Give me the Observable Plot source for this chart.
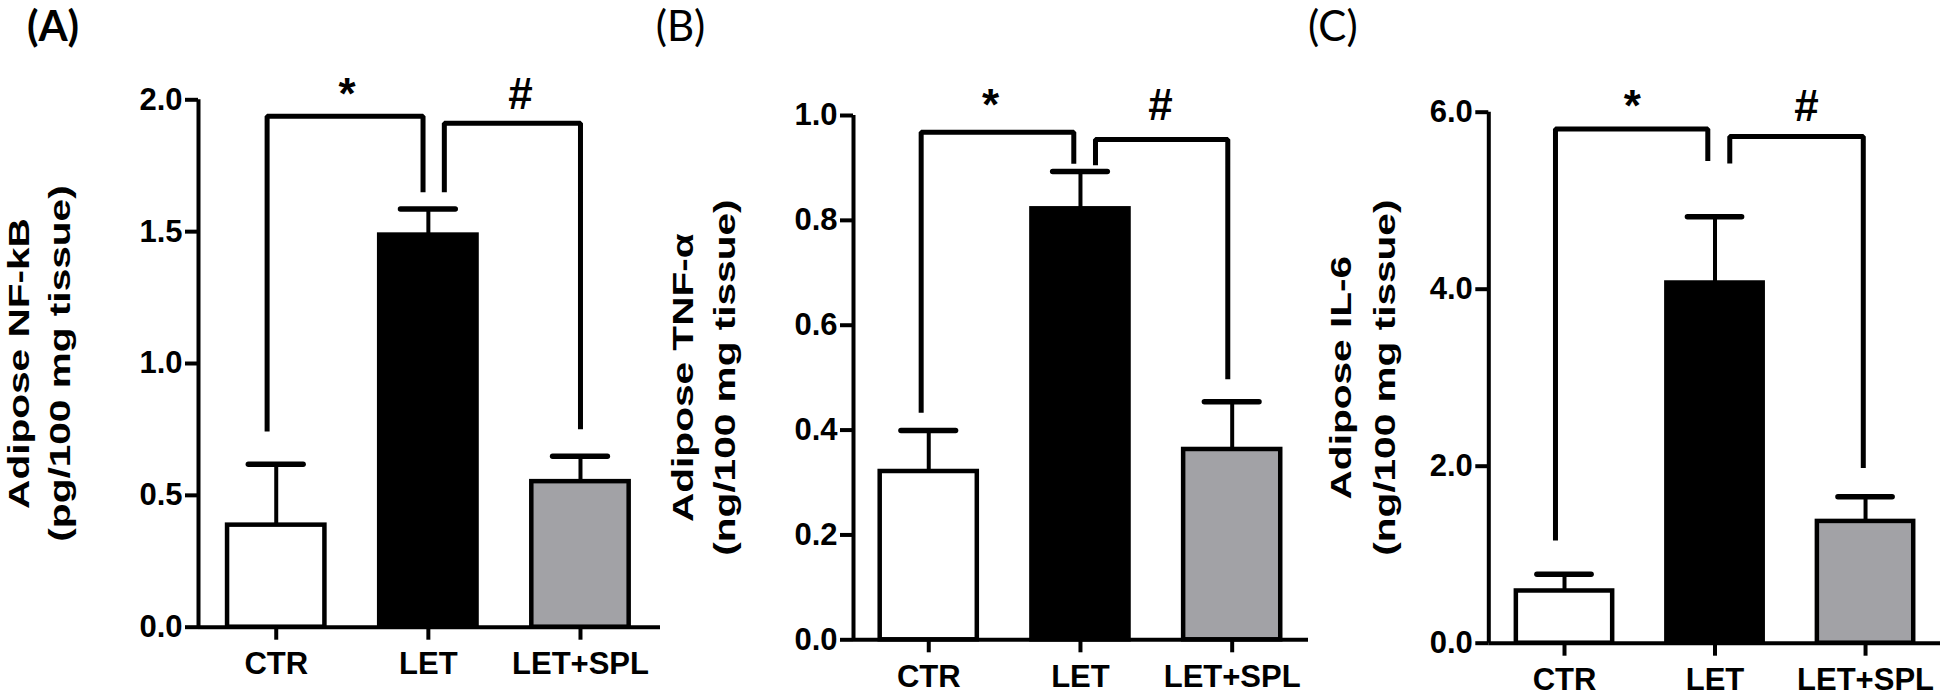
<!DOCTYPE html>
<html><head><meta charset="utf-8">
<script src="https://cdn.jsdelivr.net/npm/d3@7"></script>
<script src="https://cdn.jsdelivr.net/npm/@observablehq/plot@0.6"></script>
<style>
body{margin:0;background:#fff;}
#wrap{position:relative;width:1943px;height:696px;overflow:hidden;background:#fff;}
#wrap svg{position:absolute;top:0;}
</style></head><body><div id="wrap"></div>
<script>
const categories = ["CTR", "LET", "LET+SPL"];
const groupFills = ["#ffffff", "#000000", "#a2a2a6"];

// (A) NF-kB, pg/100 mg tissue
const nfkbMean = [0.387, 1.487, 0.552];
const nfkbSem = [0.231, 0.099, 0.096];
const nfkbTicks = [0, 0.5, 1.0, 1.5, 2.0];
const nfkbBrackets = [
  {label: "*", xL: -0.06, yL: 0.742, xR: 0.965, yR: 1.649, yTop: 1.938, symX: 0.465, symY: 1.965},
  {label: "#", xL: 1.105, yL: 1.649, xR: 2.0, yR: 0.751, yTop: 1.911, symX: 1.605, symY: 1.965}
];

// (B) TNF-alpha, ng/100 mg tissue
const tnfMean = [0.321, 0.822, 0.363];
const tnfSem = [0.078, 0.071, 0.091];
const tnfTicks = [0, 0.2, 0.4, 0.6, 0.8, 1.0];
const tnfBrackets = [
  {label: "*", xL: -0.05, yL: 0.433, xR: 0.956, yR: 0.908, yTop: 0.968, symX: 0.407, symY: 0.991},
  {label: "#", xL: 1.099, yL: 0.905, xR: 1.971, yR: 0.497, yTop: 0.954, symX: 1.528, symY: 0.991}
];

// (C) IL-6, ng/100 mg tissue
const il6Mean = [0.59, 4.07, 1.376];
const il6Sem = [0.19, 0.75, 0.278];
const il6Ticks = [0, 2.0, 4.0, 6.0];
const il6Brackets = [
  {label: "*", xL: -0.06, yL: 1.16, xR: 0.952, yR: 5.45, yTop: 5.81, symX: 0.45, symY: 5.895},
  {label: "#", xL: 1.098, yL: 5.42, xR: 1.985, yR: 1.98, yTop: 5.725, symX: 1.608, symY: 5.895}
];

const panels = [
  {tag: "(A)", tagWeight: "bold", mean: nfkbMean, sem: nfkbSem, ticks: nfkbTicks, brackets: nfkbBrackets,
   label1: "Adipose NF-kB", label2: "(pg/100 mg tissue)",
   left: 0, width: 665, marginLeft: 198, marginRight: 5, marginTop: 99.3, marginBottom: 69.3,
   xDomain: [-0.511, 2.526], l1dx: -179, l2dx: -138, tagDx: -145.5, tagDy: -72},
  {tag: "(B)", tagWeight: "normal", mean: tnfMean, sem: tnfSem, ticks: tnfTicks, brackets: tnfBrackets,
   label1: "Adipose TNF-\u03b1", label2: "(ng/100 mg tissue)",
   left: 665, width: 648, marginLeft: 188, marginRight: 5, marginTop: 115, marginBottom: 56.7,
   xDomain: [-0.496, 2.503], l1dx: -170, l2dx: -128, tagDx: -173, tagDy: -88},
  {tag: "(C)", tagWeight: "normal", mean: il6Mean, sem: il6Sem, ticks: il6Ticks, brackets: il6Brackets,
   label1: "Adipose IL-6", label2: "(ng/100 mg tissue)",
   left: 1313, width: 630, marginLeft: 175.3, marginRight: 3, marginTop: 111.7, marginBottom: 53.3,
   xDomain: [-0.503, 2.498], l1dx: -147, l2dx: -103, tagDx: -156, tagDy: -85}
];

const BAR_HALF = 0.32, CAP_HALF = 0.18;
const LABEL_SIZE = 29;
const wrap = document.getElementById("wrap");

for (const cfg of panels) {
  const rows = categories.map((c, i) => ({i, cat: c, mean: cfg.mean[i], upper: cfg.mean[i] + cfg.sem[i], fill: groupFills[i]}));
  const bracketPts = cfg.brackets.flatMap((b, k) => [
    {k, x: b.xL, y: b.yL}, {k, x: b.xL, y: b.yTop}, {k, x: b.xR, y: b.yTop}, {k, x: b.xR, y: b.yR}
  ]);
  const ymax = cfg.ticks[cfg.ticks.length - 1];
  const svg = Plot.plot({
    width: cfg.width,
    height: 696,
    marginLeft: cfg.marginLeft,
    marginRight: cfg.marginRight,
    marginTop: cfg.marginTop,
    marginBottom: cfg.marginBottom,
    x: {domain: cfg.xDomain},
    y: {domain: [0, ymax]},
    color: {type: "identity"},
    style: {fontFamily: "'Liberation Sans', Arial, Helvetica, sans-serif", fontWeight: "bold", fontSize: "31px", color: "#000", background: "transparent", overflow: "visible"},
    marks: [
      Plot.ruleX(rows, {x: "i", y1: "mean", y2: "upper", stroke: "#000", strokeWidth: 4}),
      Plot.ruleY(rows, {y: "upper", x1: d => d.i - CAP_HALF, x2: d => d.i + CAP_HALF, stroke: "#000", strokeWidth: 5.5, strokeLinecap: "round"}),
      Plot.rect(rows, {x1: d => d.i - BAR_HALF, x2: d => d.i + BAR_HALF, y1: 0, y2: "mean", fill: d => d.fill, stroke: "#000", strokeWidth: 4.5}),
      Plot.line(bracketPts, {x: "x", y: "y", z: "k", stroke: "#000", strokeWidth: 5, strokeLinejoin: "miter", strokeLinecap: "butt"}),
      Plot.text(cfg.brackets, {x: "symX", y: "symY", text: "label", fontSize: 44, lineAnchor: "bottom", fill: "#000"}),
      Plot.ruleY([0], {stroke: "#000", strokeWidth: 4}),
      Plot.ruleX([cfg.xDomain[0]], {y1: 0, y2: ymax, stroke: "#000", strokeWidth: 4}),
      Plot.axisY(cfg.ticks, {tickSize: 13, tickPadding: 3, tickFormat: d3.format(".1f"), strokeWidth: 4, fontSize: 31, label: null}),
      Plot.axisX([0, 1, 2], {tickFormat: i => categories[i], tickSize: 13, tickPadding: 12, strokeWidth: 4, fontSize: 31, label: null}),
      Plot.text([cfg.label1], {text: d => d, frameAnchor: "left", dx: cfg.l1dx, rotate: -90, fontSize: LABEL_SIZE, textAnchor: "middle", lineAnchor: "middle"}),
      Plot.text([cfg.label2], {text: d => d, frameAnchor: "left", dx: cfg.l2dx, rotate: -90, fontSize: LABEL_SIZE, textAnchor: "middle", lineAnchor: "middle"}),
      Plot.text([cfg.tag], {text: d => d, frameAnchor: "top-left", dx: cfg.tagDx, dy: cfg.tagDy, fontSize: 42, fontFamily: "Lato, 'Open Sans', sans-serif", fontWeight: cfg.tagWeight, textAnchor: "middle", lineAnchor: "middle"})
    ]
  });
  svg.style.left = cfg.left + "px";
  // stretch the rotated axis titles along their length, as in the reference
  svg.querySelectorAll(`g[font-size="${LABEL_SIZE}"]`).forEach(g => {
    g.querySelectorAll("text").forEach(t => {
      const tr = t.getAttribute("transform");
      if (tr && tr.includes("rotate")) t.setAttribute("transform", tr + " scale(1.4,1)");
    });
    const gt = g.getAttribute("transform");
    if (gt && gt.includes("rotate")) g.setAttribute("transform", gt + " scale(1.4,1)");
  });
  wrap.appendChild(svg);
}
</script>
</body></html>
